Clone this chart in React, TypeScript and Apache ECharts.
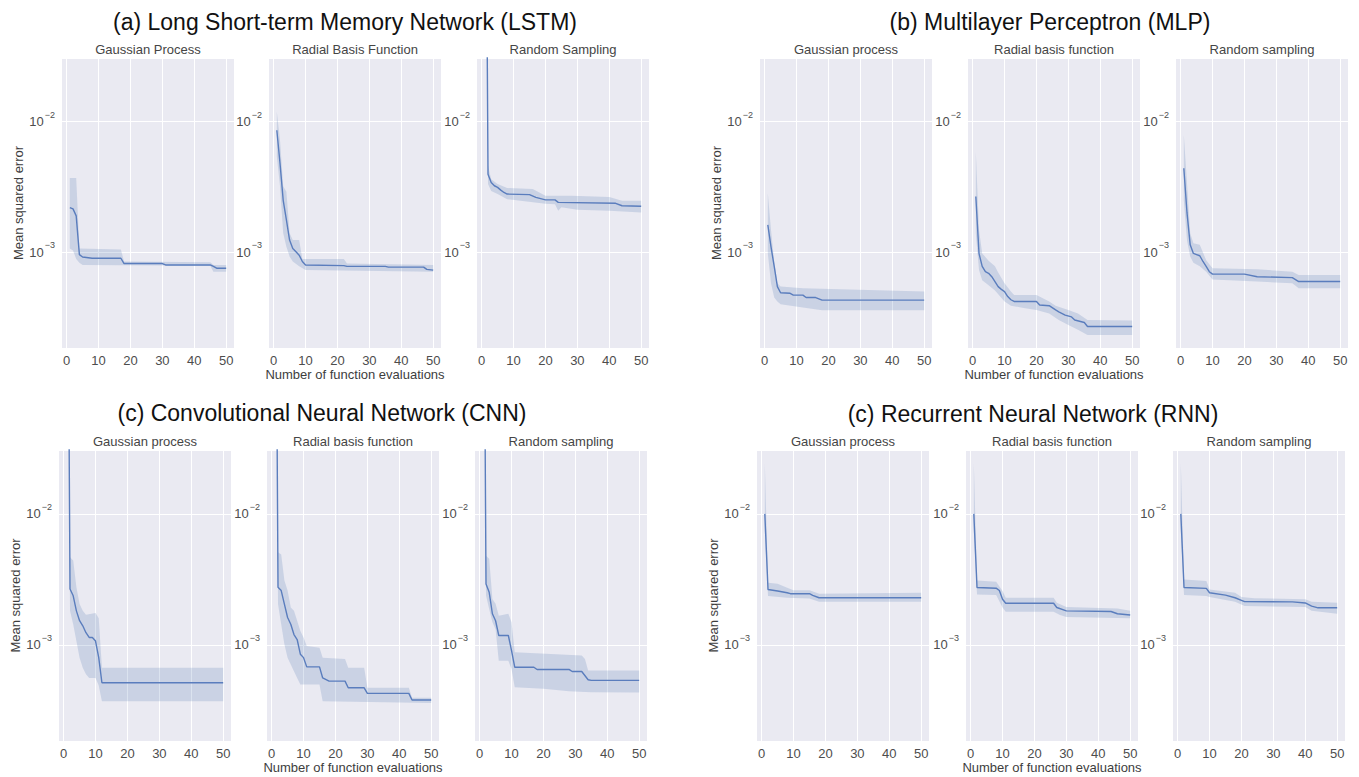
import React, { useEffect, useRef } from "react";
import * as echarts from "echarts";

type Pt = [number, number];

// ---- tick labels ----
const xTicks = [0, 10, 20, 30, 40, 50];
const yTickExponents = [-3, -2];
const yMin = 1.85e-4;
const yMax = 3.07e-2;

// ---- titles ----
const groupTitles = [
  "(a) Long Short-term Memory Network (LSTM)",
  "(b) Multilayer Perceptron (MLP)",
  "(c) Convolutional Neural Network (CNN)",
  "(c) Recurrent Neural Network (RNN)",
];
const subTitlesLSTM = ["Gaussian Process", "Radial Basis Function", "Random Sampling"];
const subTitlesOther = ["Gaussian process", "Radial basis function", "Random sampling"];
const xAxisName = "Number of function evaluations";
const yAxisName = "Mean squared error";

// ---- LSTM ----
const lstmGpMean: Pt[] = [[1,2.2e-3],[2,2.15e-3],[3,1.9e-3],[4,9.6e-4],[5,9.2e-4],[8,9.0e-4],[17,9.0e-4],[18,8.2e-4],[30,8.2e-4],[31,8.0e-4],[45,8.0e-4],[46,7.8e-4],[47,7.55e-4],[50,7.55e-4]];
const lstmGpUpper: Pt[] = [[1,3.7e-3],[3,3.7e-3],[4,1.07e-3],[17,1.05e-3],[18,8.5e-4],[45,8.4e-4],[46,8.0e-4],[50,8.0e-4]];
const lstmGpLower: Pt[] = [[1,1.07e-3],[2,1.03e-3],[3,8.9e-4],[4,8.3e-4],[5,8.0e-4],[45,7.9e-4],[46,7.1e-4],[50,7.1e-4]];

const lstmRbfMean: Pt[] = [[1,8.6e-3],[2,4.8e-3],[3,2.5e-3],[4,1.77e-3],[5,1.24e-3],[6,1.07e-3],[7,1.01e-3],[8,9.5e-4],[9,8.5e-4],[10,8.0e-4],[22,7.9e-4],[23,7.8e-4],[35,7.8e-4],[36,7.7e-4],[47,7.7e-4],[48,7.4e-4],[50,7.3e-4]];
const lstmRbfUpper: Pt[] = [[1,1.19e-2],[2,7.2e-3],[3,3.2e-3],[4,2.9e-3],[5,1.4e-3],[6,1.24e-3],[8,1.24e-3],[9,8.9e-4],[22,8.9e-4],[23,8.2e-4],[50,8.0e-4]];
const lstmRbfLower: Pt[] = [[1,5.4e-3],[2,3.2e-3],[3,1.4e-3],[4,1.1e-3],[5,9.3e-4],[6,8.5e-4],[8,7.8e-4],[10,7.3e-4],[50,7.1e-4]];

const lstmRsMean: Pt[] = [[1,30],[2,3.96e-3],[3,3.42e-3],[4,3.23e-3],[5,3.14e-3],[6,2.99e-3],[7,2.87e-3],[8,2.79e-3],[15,2.76e-3],[17,2.63e-3],[20,2.52e-3],[23,2.52e-3],[24,2.41e-3],[42,2.37e-3],[44,2.27e-3],[50,2.25e-3]];
const lstmRsUpper: Pt[] = [[1,100],[2,4.6e-3],[3,3.63e-3],[5,3.33e-3],[8,3.1e-3],[16,3.05e-3],[20,2.71e-3],[28,2.71e-3],[40,2.65e-3],[44,2.48e-3],[50,2.48e-3]];
const lstmRsLower: Pt[] = [[1,10],[2,3.33e-3],[3,2.95e-3],[5,2.79e-3],[8,2.55e-3],[20,2.35e-3],[23,2.33e-3],[24,2.08e-3],[25,2.21e-3],[30,2.12e-3],[40,2.08e-3],[50,2.02e-3]];

// ---- MLP ----
const mlpGpMean: Pt[] = [[1,1.62e-3],[2,1.1e-3],[3,7.8e-4],[4,5.46e-4],[5,4.9e-4],[8,4.85e-4],[9,4.7e-4],[12,4.7e-4],[13,4.5e-4],[16,4.5e-4],[18,4.3e-4],[50,4.3e-4]];
const mlpGpUpper: Pt[] = [[1,2.83e-3],[2,1.48e-3],[3,8.5e-4],[4,5.8e-4],[5,5.46e-4],[12,5.3e-4],[50,5.0e-4]];
const mlpGpLower: Pt[] = [[1,9.8e-4],[2,5.8e-4],[3,4.5e-4],[4,4.2e-4],[5,4.0e-4],[12,3.77e-4],[18,3.6e-4],[50,3.6e-4]];

const mlpRbfMean: Pt[] = [[1,2.67e-3],[2,9.8e-4],[3,7.8e-4],[4,7.1e-4],[5,6.9e-4],[6,6.5e-4],[7,5.97e-4],[8,5.46e-4],[9,5.2e-4],[10,5.0e-4],[11,4.58e-4],[12,4.33e-4],[13,4.2e-4],[20,4.2e-4],[21,3.95e-4],[24,3.9e-4],[26,3.62e-4],[27,3.5e-4],[29,3.3e-4],[31,3.2e-4],[32,3.03e-4],[35,2.9e-4],[36,2.7e-4],[50,2.7e-4]];
const mlpRbfUpper: Pt[] = [[1,5.89e-3],[2,1.48e-3],[3,9.8e-4],[5,8.6e-4],[7,7.8e-4],[8,7.0e-4],[10,5.8e-4],[12,5.0e-4],[13,4.7e-4],[20,4.7e-4],[24,4.2e-4],[26,3.9e-4],[30,3.62e-4],[33,3.4e-4],[36,3.03e-4],[50,3.0e-4]];
const mlpRbfLower: Pt[] = [[1,1.4e-3],[2,7.3e-4],[3,6.1e-4],[5,5.6e-4],[7,5.1e-4],[10,4.2e-4],[12,3.9e-4],[16,3.75e-4],[20,3.62e-4],[24,3.4e-4],[27,3.03e-4],[30,2.78e-4],[33,2.55e-4],[36,2.33e-4],[50,2.33e-4]];

const mlpRsMean: Pt[] = [[1,4.4e-3],[2,2.0e-3],[3,1.14e-3],[4,9.8e-4],[5,9.6e-4],[6,9.4e-4],[7,8.5e-4],[8,7.8e-4],[9,7.1e-4],[10,6.8e-4],[20,6.8e-4],[24,6.5e-4],[35,6.4e-4],[37,5.97e-4],[50,5.97e-4]];
const mlpRsUpper: Pt[] = [[1,7.9e-3],[2,3.37e-3],[3,1.4e-3],[4,1.17e-3],[6,1.14e-3],[8,8.7e-4],[10,7.55e-4],[24,7.4e-4],[35,7.1e-4],[37,6.7e-4],[50,6.7e-4]];
const mlpRsLower: Pt[] = [[1,2.5e-3],[2,1.23e-3],[3,9.3e-4],[4,8.3e-4],[6,7.8e-4],[8,7.1e-4],[10,6.2e-4],[24,5.97e-4],[35,5.8e-4],[37,5.3e-4],[50,5.3e-4]];

// ---- CNN ----
const cnnGpMean: Pt[] = [[1,30],[2,2.67e-3],[3,2.37e-3],[4,1.82e-3],[5,1.53e-3],[6,1.4e-3],[7,1.24e-3],[8,1.14e-3],[9,1.14e-3],[10,1.07e-3],[11,8.0e-4],[12,5.15e-4],[50,5.15e-4]];
const cnnGpUpper: Pt[] = [[1,100],[2,4.66e-3],[3,4.4e-3],[4,2.75e-3],[5,2.05e-3],[6,1.82e-3],[7,1.7e-3],[10,1.75e-3],[11,1.6e-3],[12,6.7e-4],[50,6.7e-4]];
const cnnGpLower: Pt[] = [[1,10],[2,1.82e-3],[3,1.44e-3],[4,1.07e-3],[5,8.0e-4],[6,6.7e-4],[7,5.97e-4],[8,5.6e-4],[10,5.6e-4],[11,4.9e-4],[12,3.72e-4],[50,3.72e-4]];

const cnnRbfMean: Pt[] = [[1,30],[2,2.75e-3],[3,2.6e-3],[4,2.05e-3],[5,1.62e-3],[6,1.44e-3],[7,1.2e-3],[8,1.1e-3],[9,8.5e-4],[10,8.0e-4],[11,6.8e-4],[15,6.8e-4],[16,5.6e-4],[18,5.3e-4],[23,5.3e-4],[24,4.71e-4],[29,4.71e-4],[30,4.27e-4],[43,4.27e-4],[44,3.8e-4],[50,3.8e-4]];
const cnnRbfUpper: Pt[] = [[1,100],[2,5.1e-3],[3,4.9e-3],[4,3.1e-3],[5,2.6e-3],[6,1.93e-3],[7,1.82e-3],[8,1.53e-3],[9,1.28e-3],[10,1.14e-3],[11,9.8e-4],[15,9.5e-4],[16,8.0e-4],[23,7.8e-4],[24,6.7e-4],[29,6.7e-4],[30,4.71e-4],[43,4.71e-4],[44,3.95e-4],[50,3.95e-4]];
const cnnRbfLower: Pt[] = [[1,10],[2,2.05e-3],[3,1.44e-3],[4,1.01e-3],[5,8.0e-4],[6,7.1e-4],[7,6.3e-4],[8,5.6e-4],[9,5.0e-4],[15,5.0e-4],[16,3.72e-4],[50,3.6e-4]];

const cnnRsMean: Pt[] = [[1,30],[2,2.92e-3],[3,2.52e-3],[4,1.73e-3],[5,1.53e-3],[6,1.18e-3],[9,1.18e-3],[10,9.06e-4],[11,6.76e-4],[17,6.76e-4],[18,6.5e-4],[28,6.5e-4],[29,6.27e-4],[32,6.27e-4],[34,5.43e-4],[35,5.37e-4],[50,5.37e-4]];
const cnnRsUpper: Pt[] = [[1,100],[2,4.8e-3],[3,4.54e-3],[4,2.24e-3],[5,2.06e-3],[6,1.67e-3],[9,1.73e-3],[10,1.49e-3],[11,8.8e-4],[32,8.3e-4],[33,7.8e-4],[34,6.37e-4],[50,6.37e-4]];
const cnnRsLower: Pt[] = [[1,10],[2,2.38e-3],[3,1.88e-3],[4,1.49e-3],[5,1.32e-3],[6,7.58e-4],[9,7.58e-4],[10,6.56e-4],[11,4.75e-4],[20,4.63e-4],[28,4.43e-4],[35,4.35e-4],[50,4.33e-4]];

// ---- RNN ----
const rnnGpMean: Pt[] = [[1,1e-2],[2,2.65e-3],[5,2.58e-3],[8,2.5e-3],[9,2.46e-3],[15,2.46e-3],[16,2.39e-3],[18,2.29e-3],[50,2.29e-3]];
const rnnGpUpper: Pt[] = [[1,2.44e-2],[2,2.98e-3],[5,2.93e-3],[8,2.73e-3],[10,2.61e-3],[15,2.61e-3],[18,2.46e-3],[50,2.5e-3]];
const rnnGpLower: Pt[] = [[1,7.4e-3],[2,2.36e-3],[8,2.29e-3],[15,2.26e-3],[18,2.14e-3],[50,2.14e-3]];

const rnnRbfMean: Pt[] = [[1,1e-2],[2,2.74e-3],[8,2.71e-3],[9,2.6e-3],[10,2.23e-3],[11,2.08e-3],[26,2.08e-3],[27,1.93e-3],[30,1.82e-3],[44,1.8e-3],[46,1.73e-3],[50,1.69e-3]];
const rnnRbfUpper: Pt[] = [[1,2.44e-2],[2,3.1e-3],[8,3.03e-3],[10,2.58e-3],[11,2.29e-3],[26,2.29e-3],[27,2.1e-3],[30,1.95e-3],[46,1.9e-3],[50,1.82e-3]];
const rnnRbfLower: Pt[] = [[1,7.4e-3],[2,2.43e-3],[8,2.4e-3],[10,1.93e-3],[11,1.79e-3],[26,1.79e-3],[28,1.69e-3],[30,1.63e-3],[50,1.6e-3]];

const rnnRsMean: Pt[] = [[1,1e-2],[2,2.74e-3],[9,2.7e-3],[10,2.5e-3],[15,2.4e-3],[18,2.29e-3],[20,2.19e-3],[21,2.14e-3],[36,2.13e-3],[40,2.09e-3],[42,1.98e-3],[44,1.92e-3],[50,1.92e-3]];
const rnnRsUpper: Pt[] = [[1,2.44e-2],[2,3.16e-3],[9,3.07e-3],[10,2.65e-3],[18,2.5e-3],[20,2.32e-3],[24,2.27e-3],[40,2.23e-3],[42,2.14e-3],[50,2.1e-3]];
const rnnRsLower: Pt[] = [[1,7.4e-3],[2,2.4e-3],[9,2.36e-3],[10,2.32e-3],[18,2.14e-3],[21,1.98e-3],[40,1.95e-3],[42,1.82e-3],[50,1.73e-3]];

// ---- layout / style ----
const FONT = '"Liberation Sans", Arial, Helvetica, sans-serif';
const LINE_COLOR = "#5a7dbd";
const BAND_COLOR = "rgba(76,114,176,0.2)";
const PANEL_BG = "#EAEAF2";
const TICK_COLOR = "#4d4d4d";
const PANEL_W = 172;

interface Panel {
  left: number;
  top: number;
  height: number;
  title: string;
  mean: Pt[];
  upper: Pt[];
  lower: Pt[];
  yName: boolean;
  xName: boolean;
}

const rowTop = [58, 450];
const rowHeight = [290, 291];

const panels: Panel[] = [
  { left: 62, top: rowTop[0], height: rowHeight[0], title: subTitlesLSTM[0], mean: lstmGpMean, upper: lstmGpUpper, lower: lstmGpLower, yName: true, xName: false },
  { left: 269, top: rowTop[0], height: rowHeight[0], title: subTitlesLSTM[1], mean: lstmRbfMean, upper: lstmRbfUpper, lower: lstmRbfLower, yName: false, xName: true },
  { left: 477, top: rowTop[0], height: rowHeight[0], title: subTitlesLSTM[2], mean: lstmRsMean, upper: lstmRsUpper, lower: lstmRsLower, yName: false, xName: false },
  { left: 760, top: rowTop[0], height: rowHeight[0], title: subTitlesOther[0], mean: mlpGpMean, upper: mlpGpUpper, lower: mlpGpLower, yName: true, xName: false },
  { left: 968, top: rowTop[0], height: rowHeight[0], title: subTitlesOther[1], mean: mlpRbfMean, upper: mlpRbfUpper, lower: mlpRbfLower, yName: false, xName: true },
  { left: 1176, top: rowTop[0], height: rowHeight[0], title: subTitlesOther[2], mean: mlpRsMean, upper: mlpRsUpper, lower: mlpRsLower, yName: false, xName: false },
  { left: 59, top: rowTop[1], height: rowHeight[1], title: subTitlesOther[0], mean: cnnGpMean, upper: cnnGpUpper, lower: cnnGpLower, yName: true, xName: false },
  { left: 267, top: rowTop[1], height: rowHeight[1], title: subTitlesOther[1], mean: cnnRbfMean, upper: cnnRbfUpper, lower: cnnRbfLower, yName: false, xName: true },
  { left: 475, top: rowTop[1], height: rowHeight[1], title: subTitlesOther[2], mean: cnnRsMean, upper: cnnRsUpper, lower: cnnRsLower, yName: false, xName: false },
  { left: 757, top: rowTop[1], height: rowHeight[1], title: subTitlesOther[0], mean: rnnGpMean, upper: rnnGpUpper, lower: rnnGpLower, yName: true, xName: false },
  { left: 966, top: rowTop[1], height: rowHeight[1], title: subTitlesOther[1], mean: rnnRbfMean, upper: rnnRbfUpper, lower: rnnRbfLower, yName: false, xName: true },
  { left: 1173, top: rowTop[1], height: rowHeight[1], title: subTitlesOther[2], mean: rnnRsMean, upper: rnnRsUpper, lower: rnnRsLower, yName: false, xName: false },
];

const groupTitlePos: [number, number][] = [
  [345, 22],
  [1050, 22],
  [322, 413],
  [1033, 414],
];

function yLabel(v: number): string {
  const l = Math.log10(v);
  const e = Math.round(l);
  if (Math.abs(l - e) > 1e-6 || !yTickExponents.includes(e)) return "";
  return `{b|10}{s|${e < 0 ? "\u2212" : ""}${Math.abs(e)}}`;
}

function xLabel(v: number): string {
  return xTicks.includes(v) ? String(v) : "";
}

function buildOption() {
  const grid: any[] = [];
  const xAxis: any[] = [];
  const yAxis: any[] = [];
  const series: any[] = [];
  const graphic: any[] = [];

  panels.forEach((p, i) => {
    grid.push({
      left: p.left,
      top: p.top,
      width: PANEL_W,
      height: p.height,
      show: true,
      backgroundColor: PANEL_BG,
      borderWidth: 0,
      containLabel: false,
    });
    xAxis.push({
      type: "value",
      gridIndex: i,
      min: -1.45,
      max: 52.45,
      axisLine: { show: false },
      axisTick: { show: false, customValues: xTicks },
      splitLine: { show: true, lineStyle: { color: "#ffffff", width: 1 } },
      axisLabel: {
        customValues: xTicks,
        formatter: xLabel,
        color: TICK_COLOR,
        fontSize: 13,
        fontFamily: FONT,
        margin: 6,
        showMinLabel: true,
        showMaxLabel: true,
      },
      name: p.xName ? xAxisName : "",
      nameLocation: "middle",
      nameGap: 19,
      nameTextStyle: { color: "#3d3d3d", fontSize: 13, fontFamily: FONT },
    });
    yAxis.push({
      type: "log",
      logBase: 10,
      gridIndex: i,
      min: yMin,
      max: yMax,
      axisLine: { show: false },
      axisTick: { show: false },
      splitLine: { show: true, lineStyle: { color: "#ffffff", width: 1 } },
      minorSplitLine: { show: false },
      axisLabel: {
        formatter: yLabel,
        color: TICK_COLOR,
        fontFamily: FONT,
        margin: 7,
        rich: {
          b: { fontSize: 13, lineHeight: 13, color: TICK_COLOR, fontFamily: FONT, verticalAlign: "middle" },
          s: { fontSize: 9, lineHeight: 9, color: TICK_COLOR, fontFamily: FONT, verticalAlign: "middle", padding: [0, 0, 14, 1] },
        },
      },
      name: p.yName ? yAxisName : "",
      nameLocation: "middle",
      nameGap: 35,
      nameTextStyle: { color: "#3d3d3d", fontSize: 13, fontFamily: FONT },
    });

    const poly = [...p.upper, ...p.lower.slice().reverse()];
    series.push({
      type: "custom",
      xAxisIndex: i,
      yAxisIndex: i,
      clip: true,
      silent: true,
      z: 1,
      data: [[25, 1e-3]],
      renderItem: (_params: any, api: any) => ({
        type: "polygon",
        shape: { points: poly.map((pt) => api.coord(pt)) },
        style: { fill: BAND_COLOR, stroke: "none" },
      }),
    });
    series.push({
      type: "line",
      xAxisIndex: i,
      yAxisIndex: i,
      data: p.mean,
      showSymbol: false,
      symbol: "none",
      clip: true,
      z: 2,
      lineStyle: { color: LINE_COLOR, width: 1.4 },
      itemStyle: { color: LINE_COLOR },
    });

    graphic.push({
      type: "text",
      x: p.left + PANEL_W / 2,
      y: p.top - 9,
      style: {
        text: p.title,
        fill: "#454545",
        fontSize: 13,
        fontFamily: FONT,
        align: "center",
        verticalAlign: "middle",
        textAlign: "center",
        textVerticalAlign: "middle",
      },
    });
  });

  groupTitles.forEach((t, i) => {
    graphic.push({
      type: "text",
      x: groupTitlePos[i][0],
      y: groupTitlePos[i][1],
      style: {
        text: t,
        fill: "#111111",
        fontSize: 23,
        fontFamily: FONT,
        align: "center",
        verticalAlign: "middle",
        textAlign: "center",
        textVerticalAlign: "middle",
      },
    });
  });

  return {
    animation: false,
    backgroundColor: "#ffffff",
    textStyle: { fontFamily: FONT },
    grid,
    xAxis,
    yAxis,
    series,
    graphic,
  };
}

export default function App() {
  const ref = useRef<HTMLDivElement>(null);
  useEffect(() => {
    if (!ref.current) return;
    const chart = echarts.init(ref.current, null, { renderer: "svg" });
    chart.setOption(buildOption() as any);
    return () => chart.dispose();
  }, []);
  return (
    <div
      ref={ref}
      style={{ position: "fixed", left: 0, top: 0, width: 1359, height: 777, background: "#fff" }}
    />
  );
}
